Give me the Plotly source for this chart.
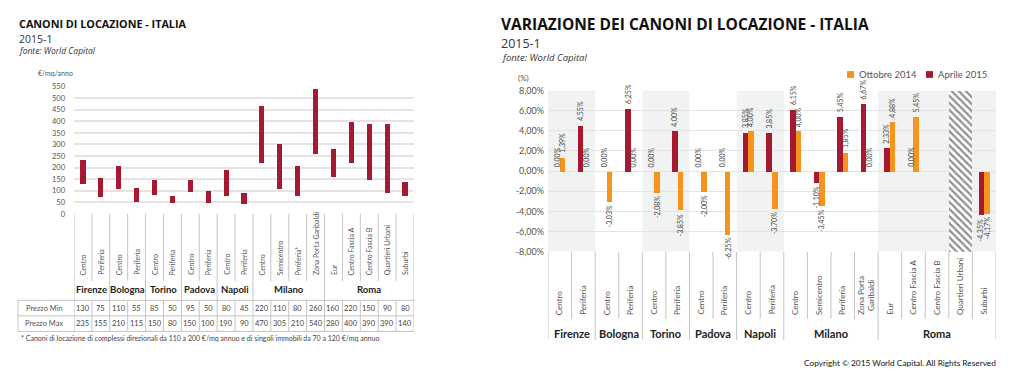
import plotly.graph_objects as go

W, H = 1024, 385
def px(x): return x / W
def py(y): return 1 - y / H

# ---------------- data ----------------
cities = ["Firenze", "Bologna", "Torino", "Padova", "Napoli", "Milano", "Roma"]
zones_left = [["Centro", "Periferia"], ["Centro", "Periferia"], ["Centro", "Periferia"],
              ["Centro", "Periferia"], ["Centro", "Periferia"],
              ["Centro", "Semicentro", "Periferia*", "Zona Porta Garibaldi"],
              ["Eur", "Centro Fascia A", "Centro Fascia B", "Quartieri Urbani", "Suburbi"]]
prezzo_min = [130, 75, 110, 55, 85, 50, 95, 50, 80, 45, 220, 110, 80, 260, 160, 220, 150, 90, 80]
prezzo_max = [235, 155, 210, 115, 150, 80, 150, 100, 190, 90, 470, 305, 210, 540, 280, 400, 390, 390, 140]
left_ticks = [0, 50, 100, 150, 200, 250, 300, 350, 400, 450, 500, 550]

zones_right = [["Centro", "Periferia"], ["Centro", "Periferia"], ["Centro", "Periferia"],
               ["Centro", "Periferia"], ["Centro", "Periferia"],
               ["Centro", "Semicentro", "Periferia", "Zona Porta<br>Garibaldi"],
               ["Eur", "Centro Fascia A", "Centro Fascia B", "Quartieri Urbani", "Suburbi"]]
ottobre_2014 = [1.39, 0.00, -3.03, 0.00, -2.08, -3.85, -2.00, -6.25, 4.00, -3.70,
                4.00, -3.45, 1.85, 0.00, 4.88, 5.45, None, None, -4.17]
aprile_2015 = [0.00, 4.55, 0.00, 6.25, 0.00, 4.00, 0.00, 0.00, 3.85, 3.85,
               6.15, -1.10, 5.45, 6.67, 2.33, 0.00, None, None, -4.35]
no_data_zone = "Quartieri Urbani"
right_ticks = [-8, -6, -4, -2, 0, 2, 4, 6, 8]
series_names = ["Ottobre 2014", "Aprile 2015"]

RED = "#A51A30"
ORANGE = "#F7941D"
GRID = "#e4e4e4"
TXT = "#555555"
LINE = "#c4c4c4"
TFONT = "Open Sans"
FONT = "Lato"

keys_l = [f"{c}|{z}" for c, zs in zip(cities, zones_left) for z in zs]
keys_r = [f"{c}|{z}" for c, zs in zip(cities, zones_right) for z in zs]
sizes = [len(zs) for zs in zones_left]
starts = [sum(sizes[:i]) for i in range(len(sizes))]
n = len(keys_l)

fig = go.Figure()

# ---------------- left chart ----------------
fig.add_trace(go.Bar(
    x=keys_l, y=[mx - mn for mn, mx in zip(prezzo_min, prezzo_max)], base=prezzo_min,
    marker=dict(color=RED, line=dict(width=0)), width=0.29,
    xaxis="x", yaxis="y", showlegend=False, name="Canoni"))

# ---------------- right chart ----------------
yr2 = [right_ticks[0], right_ticks[-1]]
qi = [k.split("|")[1] for k in keys_r].index(no_data_zone)
fig.add_trace(go.Bar(
    x=[keys_r[qi]], y=[yr2[1] - yr2[0]], base=[yr2[0]], width=1, offset=-0.5,
    marker=dict(color="white", line=dict(width=0),
                pattern=dict(shape="\\", fgcolor="#222222", bgcolor="white", size=5, solidity=0.45)),
    xaxis="x2", yaxis="y2", showlegend=False, hoverinfo="skip"))
fig.add_trace(go.Bar(
    x=keys_r, y=ottobre_2014, name=series_names[0], offset=0.0, width=0.235,
    marker=dict(color=ORANGE, line=dict(width=0)), xaxis="x2", yaxis="y2", showlegend=False))
fig.add_trace(go.Bar(
    x=keys_r, y=aprile_2015, name=series_names[1], offset=-0.235, width=0.235,
    marker=dict(color=RED, line=dict(width=0)), xaxis="x2", yaxis="y2", showlegend=False))

shapes = []
ann = []

def fmt(v):
    return f"{v:.2f}".replace(".", ",") + "%"

def note(x, y, text, size, color=TXT, family=FONT, xa="center", ya="middle", **kw):
    d = dict(x=x, y=y, xref="paper", yref="paper", text=text, showarrow=False,
             xanchor=xa, yanchor=ya, font=dict(size=size, color=color, family=family))
    d.update(kw)
    return d

# data labels right chart
for series, shift in ((aprile_2015, -2.8), (ottobre_2014, 2.8)):
    for k, v in zip(keys_r, series):
        if v is None:
            continue
        ann.append(dict(x=k, y=v, xref="x2", yref="y2", text=fmt(v), showarrow=False,
                        textangle=-90, xshift=shift, yshift=2 if v >= 0 else -2,
                        yanchor="bottom" if v >= 0 else "top", xanchor="center",
                        font=dict(size=7, color="#444", family=FONT)))

# shaded city bands right chart
for gi in range(0, len(cities), 2):
    shapes.append(dict(type="rect", xref="x2", yref="y2", layer="below",
                       x0=starts[gi] - 0.5, x1=starts[gi] + sizes[gi] - 0.5,
                       y0=yr2[0], y1=yr2[1], fillcolor="#f1f3f3", line=dict(width=0)))

# manual legend
for (lx, col, name) in ((847, ORANGE, series_names[0]), (926, RED, series_names[1])):
    shapes.append(dict(type="rect", xref="paper", yref="paper", x0=px(lx), x1=px(lx + 7),
                       y0=py(74), y1=py(67), fillcolor=col, line=dict(width=0)))
    ann.append(note(px(lx + 10), py(70.5), name, 9.5, xa="left"))

# ---------------- left table ----------------
L_TOP, L_SHORT, L_ROW1, L_ROW2, L_ROW3 = 214, 283, 303, 319, 335
LX0 = 18
city_bounds = set(starts + [n])
for i in range(n + 1):
    if i in city_bounds:
        shapes.append(dict(type="line", xref="x", yref="paper", x0=i - 0.5, x1=i - 0.5,
                           y0=py(L_TOP), y1=py(L_ROW3), line=dict(color=LINE, width=1)))
    else:
        shapes.append(dict(type="line", xref="x", yref="paper", x0=i - 0.5, x1=i - 0.5,
                           y0=py(L_TOP), y1=py(L_SHORT), line=dict(color=LINE, width=1)))
        shapes.append(dict(type="line", xref="x", yref="paper", x0=i - 0.5, x1=i - 0.5,
                           y0=py(L_ROW1), y1=py(L_ROW3), line=dict(color=LINE, width=1)))
for yy in (L_ROW1, L_ROW2, L_ROW3):
    shapes.append(dict(type="line", xref="paper", yref="paper", x0=px(LX0), x1=px(414),
                       y0=py(yy), y1=py(yy), line=dict(color=LINE, width=1)))
shapes.append(dict(type="line", xref="paper", yref="paper", x0=px(LX0), x1=px(LX0),
                   y0=py(L_ROW1), y1=py(L_ROW3), line=dict(color=LINE, width=1)))

for k in keys_l:
    ann.append(dict(x=k, y=py(279), xref="x", yref="paper", text=k.split("|")[1],
                    textangle=-90, showarrow=False, yanchor="bottom", xanchor="center",
                    font=dict(size=7, color=TXT, family=FONT)))
for gi, c in enumerate(cities):
    mid = starts[gi] + (sizes[gi] - 1) / 2
    ann.append(dict(x=mid, y=py(292), xref="x", yref="paper", text=f"<b>{c}</b>",
                    showarrow=False, yanchor="middle", xanchor="center",
                    font=dict(size=9.5, color="#222", family=FONT)))
for k, mn, mx in zip(keys_l, prezzo_min, prezzo_max):
    ann.append(dict(x=k, y=py(311), xref="x", yref="paper", text=str(mn), showarrow=False,
                    xanchor="center", yanchor="middle",
                    font=dict(size=7.5, color="#444", family=FONT)))
    ann.append(dict(x=k, y=py(327), xref="x", yref="paper", text=str(mx), showarrow=False,
                    xanchor="center", yanchor="middle",
                    font=dict(size=7.5, color="#444", family=FONT)))
ann.append(note(px(44), py(311), "Prezzo Min", 7.5))
ann.append(note(px(44), py(327), "Prezzo Max", 7.5))
ann.append(note(px(19), py(342),
                "* Canoni di locazione di complessi direzionali da 110 a 200 €/mq annuo e di singoli immobili da 70 a 120 €/mq annuo",
                7, color="#444", xa="left"))

# ---------------- right table ----------------
R_TOP, R_SHORT, R_LONG = 253, 322, 344
for i in range(n + 1):
    y1 = R_LONG if i in city_bounds else R_SHORT
    shapes.append(dict(type="line", xref="x2", yref="paper", x0=i - 0.5, x1=i - 0.5,
                       y0=py(R_TOP), y1=py(y1), line=dict(color=LINE, width=1)))
for k in keys_r:
    ann.append(dict(x=k, y=py(320), xref="x2", yref="paper", text=k.split("|")[1],
                    textangle=-90, showarrow=False, yanchor="bottom", xanchor="center",
                    font=dict(size=8, color=TXT, family=FONT)))
for gi, c in enumerate(cities):
    mid = starts[gi] + (sizes[gi] - 1) / 2
    ann.append(dict(x=mid, y=py(337), xref="x2", yref="paper", text=f"<b>{c}</b>",
                    showarrow=False, yanchor="middle", xanchor="center",
                    font=dict(size=11, color="#222", family=FONT)))

# ---------------- titles ----------------
ann += [
    note(px(17), py(18.5), "<b>CANONI DI LOCAZIONE - ITALIA</b>", 10.8, "#111", TFONT, xa="left"),
    note(px(17), py(33.5), "2015-1", 10.5, "#333", TFONT, xa="left"),
    note(px(17), py(46), "<i>fonte: World Capital</i>", 8.5, "#333", TFONT, xa="left"),
    note(px(75), py(69), "€/mq/anno", 7, xa="right"),
    note(px(499), py(19), "<b>VARIAZIONE DEI CANONI DI LOCAZIONE - ITALIA</b>", 15.5, "#111", TFONT, xa="left"),
    note(px(499), py(38.5), "2015-1", 12.5, "#333", TFONT, xa="left"),
    note(px(499), py(53), "<i>fonte: World Capital</i>", 9.5, "#333", TFONT, xa="left"),
    note(px(531), py(74), "(%)", 8, xa="right"),
    note(px(998), py(368), "Copyright © 2015 World Capital. All Rights Reserved", 8.3, "#111", xa="right"),
]

fig.update_layout(
    width=W, height=H, margin=dict(l=0, r=0, t=0, b=0),
    paper_bgcolor="white", plot_bgcolor="rgba(0,0,0,0)",
    barmode="overlay", bargap=0, showlegend=False,
    font=dict(family=FONT, color=TXT),
    xaxis=dict(domain=[px(74), px(414)], range=[-0.5, n - 0.5], type="category",
               categoryorder="array", categoryarray=keys_l,
               showticklabels=False, showgrid=False, zeroline=False, fixedrange=True),
    yaxis=dict(domain=[py(214), py(83)], range=[0, 550], tickvals=left_ticks,
               showgrid=True, gridcolor=GRID, gridwidth=1.5, zeroline=False,
               ticks="", ticklabelstandoff=8, tickfont=dict(size=7.5, color=TXT, family=FONT)),
    xaxis2=dict(domain=[px(548), px(996)], range=[-0.5, n - 0.5], type="category",
                categoryorder="array", categoryarray=keys_r, anchor="y2",
                showticklabels=False, showgrid=False, zeroline=False),
    yaxis2=dict(domain=[py(253), py(87)], range=yr2, anchor="x2", tickvals=right_ticks,
                ticktext=[fmt(v) for v in right_ticks], showgrid=True, gridcolor=GRID,
                gridwidth=1.2, zeroline=False, ticks="", ticklabelstandoff=3,
                tickfont=dict(size=9, color=TXT, family=FONT)),
    shapes=shapes, annotations=ann,
)

fig.write_html("out.html", config={"displayModeBar": False},
               post_script="document.body.style.margin='0';document.body.style.overflow='hidden';")
